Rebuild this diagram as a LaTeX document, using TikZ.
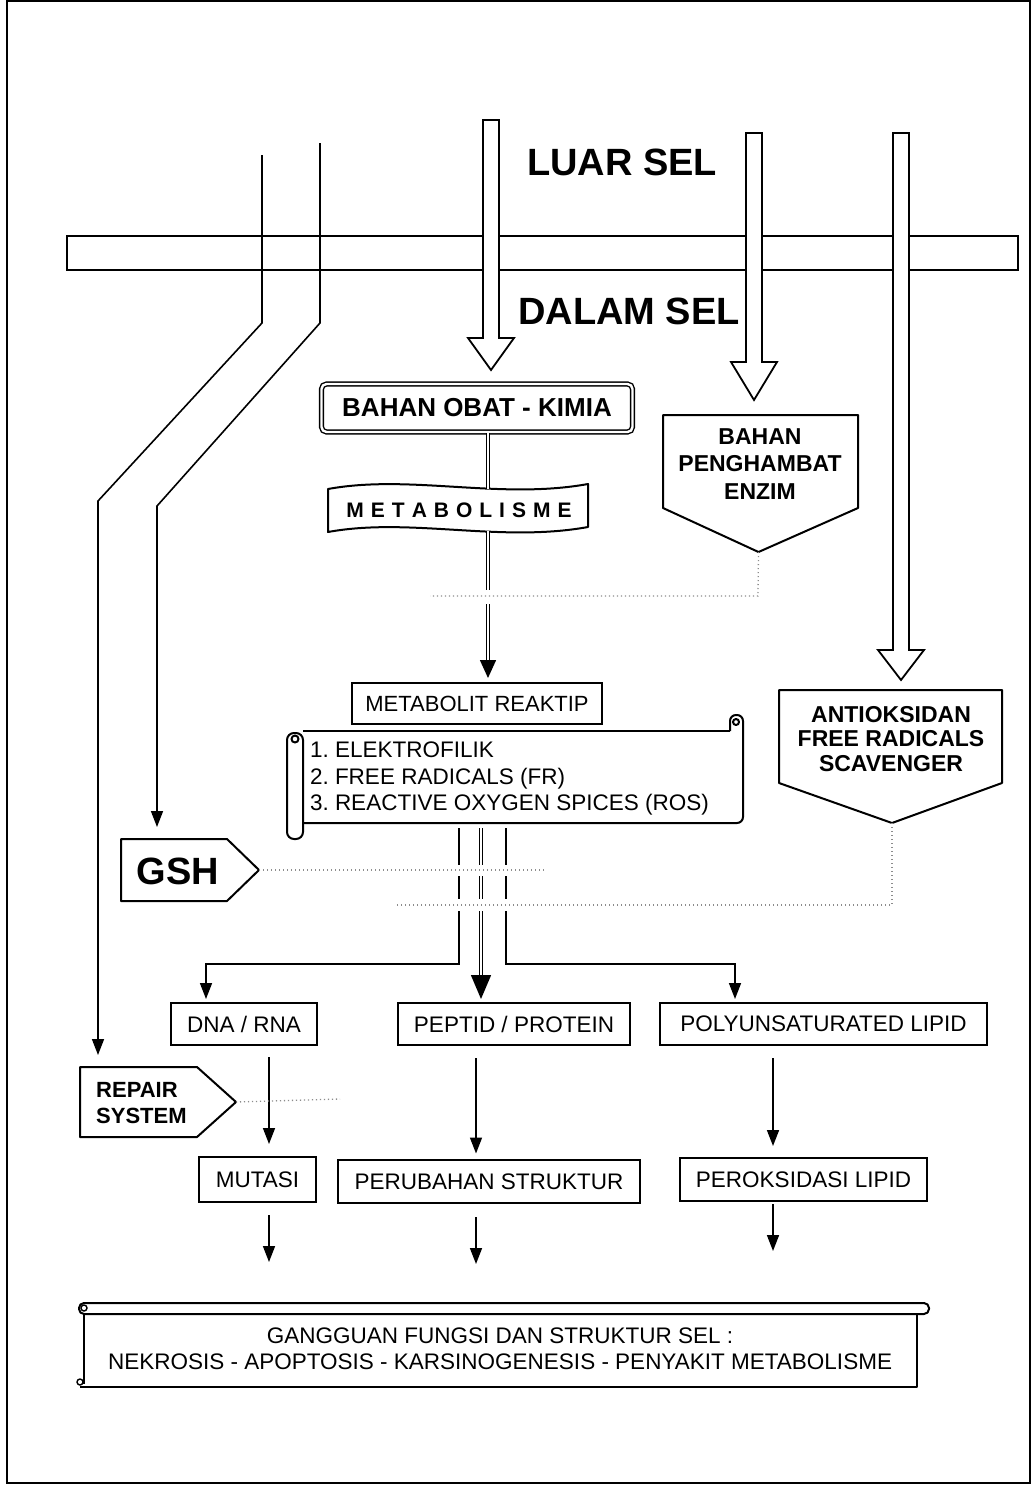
\documentclass[tikz,border=0pt]{standalone}
\usepackage{fontspec}
\setmainfont{Liberation Sans}
\usetikzlibrary{arrows.meta}
% hollow block arrow pointing down: centre x, shaft top, head top, tip
\newcommand\hollowdown[4]{%
  \draw[blockarrow] (#1-8,#2) -- (#1+8,#2) -- (#1+8,#3) -- (#1+23,#3) -- (#1,#4) -- (#1-23,#3) -- (#1-8,#3) -- cycle;}
\newcommand\fs[2]{\fontsize{#1}{#2}\selectfont}
\frenchspacing
\begin{document}
\begin{tikzpicture}[x=1pt,y=-1pt,
  outline/.style={line width=2pt, line join=round},
  box/.style={draw, line width=2pt, inner sep=0pt, font=\fs{22.5}{26}},
  plate/.style={inner sep=0pt, outer sep=0pt},
  heading/.style={inner sep=0pt, font=\fs{38}{40}\bfseries},
  boldtxt/.style={inner sep=0pt, align=center, font=\fs{23}{27.5}\bfseries},
  conn/.style={line width=1.6pt},
  arr/.style={conn, -{Triangle[length=16pt,width=12pt]}},
  bigarr/.style={line width=1.5pt, -{Triangle[length=24pt,width=20pt]}},
  dbl/.style={double, double distance=1.6pt, line width=1.2pt},
  inh/.style={draw=black!45, line width=1.3pt, dash pattern=on 1.2pt off 2.8pt},
  blockarrow/.style={line width=1.8pt, fill=white, line join=miter},
]
\useasboundingbox (0,0) rectangle (1034,1485);

% page frame and cell membrane
\draw[line width=1.4pt] (7,1) rectangle (1030,1483);
\draw[line width=1.6pt] (67,236) rectangle (1018,270);

% headings
\node[heading] (luar) at (622,162) {LUAR SEL};
\node[heading] (dalam) at (629,311) {DALAM SEL};

% main chain
\node[draw, double, double distance=2.4pt, line width=1.4pt, rounded corners=5pt,
      minimum width=311, minimum height=48, inner sep=0pt, font=\fs{26}{28}\bfseries]
      (obat) at (477,408) {BAHAN OBAT - KIMIA};

% wavy banner
\draw[outline] (328,489) .. controls (410,474) and (500,500) .. (588,484)
  -- (588,527) .. controls (500,543) and (410,517) .. (328,532) -- cycle;
\coordinate (tapetop) at (488,489);
\coordinate (tapebot) at (488,531);
\node[plate, font=\fs{21}{24}\bfseries] (metab) at (459,510)
  {M\kern7pt E\kern7pt T\kern7pt A\kern7pt B\kern7pt O\kern7pt L\kern7pt I\kern7pt S\kern7pt M\kern7pt E};

\node[plate, minimum width=195, minimum height=93] (enz) at (760.5,461.5) {};
\coordinate (enztip) at ([shift={(-2,44)}]enz.south);
\draw[outline] (enz.north west) -- (enz.north east) -- (enz.south east) -- (enztip) -- (enz.south west) -- cycle;
\node[boldtxt] (enztxt) at (760,464) {BAHAN\\PENGHAMBAT\\ENZIM};

\node[box, minimum width=250, minimum height=41, font=\fs{22}{26}] (met) at (477,703.5) {METABOLIT REAKTIP};

% scroll with the reactive species
\draw[outline, rounded corners=7pt] (287,733) rectangle (303,839);
\draw[outline] (295,739) circle (3.5);
\draw[outline] (303,731) -- (730,731);
\draw[outline, rounded corners=6pt] (730,731) -- (730,715) -- (743,715) -- (743,823) -- (303,823);
\draw[outline] (736,722) circle (3);
\coordinate (scrollbot) at (481,823);
\node[plate, anchor=west, align=left, font=\fs{22.5}{26.5}] (fr) at (310,778.5)
  {1. ELEKTROFILIK\\2. FREE RADICALS (FR)\\3. REACTIVE OXYGEN SPICES (ROS)};

\node[plate, minimum width=223, minimum height=93] (anti) at (890.5,736.5) {};
\coordinate (antitip) at ([shift={(1.5,40)}]anti.south);
\draw[outline] (anti.north west) -- (anti.north east) -- (anti.south east) -- (antitip) -- (anti.south west) -- cycle;
\node[boldtxt, font=\fs{23}{24.5}\bfseries] (antitxt) at (891,739) {ANTIOKSIDAN\\FREE RADICALS\\SCAVENGER};

\node[plate, minimum width=106, minimum height=62] (gsh) at (174,870) {};
\coordinate (gshtip) at ([xshift=32]gsh.east);
\draw[outline] (gsh.north west) -- (gsh.north east) -- (gshtip) -- (gsh.south east) -- (gsh.south west) -- cycle;
\node[plate, font=\fs{38}{40}\bfseries] (gshtxt) at (178,871) {GSH};

% targets
\node[box, minimum width=146, minimum height=42] (dna) at (244,1024) {DNA / RNA};
\node[box, minimum width=232, minimum height=42] (pep) at (514,1024) {PEPTID / PROTEIN};
\node[box, minimum width=327, minimum height=42] (pufa) at (823.5,1024) {POLYUNSATURATED LIPID};

\node[plate, minimum width=117, minimum height=70] (repair) at (138.5,1102) {};
\coordinate (repairtip) at ([xshift=39]repair.east);
\draw[outline] (repair.north west) -- (repair.north east) -- (repairtip) -- (repair.south east) -- (repair.south west) -- cycle;
\node[boldtxt, align=left, anchor=west, font=\fs{22}{26}\bfseries] (repairtxt) at (96,1103) {REPAIR\\SYSTEM};

\node[box, minimum width=117, minimum height=45] (mut) at (257.5,1179.5) {MUTASI};
\node[box, minimum width=302, minimum height=43] (perub) at (489,1181.5) {PERUBAHAN STRUKTUR};
\node[box, minimum width=247, minimum height=43] (perok) at (803.5,1179.5) {PEROKSIDASI LIPID};

% final outcome scroll
\draw[outline, rounded corners=5pt] (79,1303) rectangle (929,1314);
\draw[outline] (84,1314) -- (84,1384);
\draw[outline] (917,1314) -- (917,1387) -- (80,1387);
\draw[line width=1.4pt] (84,1308) circle (3);
\draw[line width=1.4pt] (80,1382) circle (3);
\node[plate, align=center, font=\fs{22.5}{26}] (outcome) at (500,1349)
  {GANGGUAN FUNGSI DAN STRUKTUR SEL :\\NEKROSIS - APOPTOSIS - KARSINOGENESIS - PENYAKIT METABOLISME};

% entries through the membrane
\hollowdown{491}{120}{338}{370}
\hollowdown{754}{133}{362}{400}
\hollowdown{901}{133}{650}{680}

\coordinate (srca) at (262,155);
\coordinate (srcb) at (320,143);
\draw[arr] (srca) -- (262,323) -- (98,501) -- ([shift={(18,-12)}]repair.north west);
\draw[arr] (srcb) -- (320,323) -- (157,506) -- ([shift={(36,-12)}]gsh.north west);

% metabolic route
\draw[dbl] ([xshift=11]obat.south) -- (tapetop);
\draw[dbl] (tapebot) -- (488,590);
\draw[dbl] (488,604) -- (488,664);
\draw[line width=1.5pt, -{Triangle[length=18pt,width=16pt]}] (488,660) -- ([shift={(11,-4)}]met.north);

% branches to the targets
\draw[arr] ([shift={(-22,5)}]scrollbot) -- (459,964) -- (206,964) -- ([shift={(-38,-3)}]dna.north);
\draw[arr] ([shift={(25,5)}]scrollbot) -- (506,964) -- (735,964) -- ([shift={(-88.5,-3)}]pufa.north);
\draw[dbl] ([shift={(0,5)}]scrollbot) -- (481,980);
\draw[bigarr] (481,976) -- ([shift={(-33,-3)}]pep.north);

\draw[arr] ([shift={(25,11)}]dna.south) -- ([shift={(11.5,-12)}]mut.north);
\draw[arr] ([shift={(-38,12)}]pep.south) -- ([shift={(-13,-5.5)}]perub.north);
\draw[arr] ([shift={(-50.5,12)}]pufa.south) -- ([shift={(-30.5,-11)}]perok.north);
\draw[arr] ([shift={(11.5,12)}]mut.south) -- ++(0,47);
\draw[arr] ([shift={(-13,13)}]perub.south) -- ++(0,47);
\draw[arr] ([shift={(-30.5,2)}]perok.south) -- ++(0,47);

% inhibiting influences
\fill[white] (452,865) rectangle (512,876);
\fill[white] (452,899) rectangle (512,911);
\draw[inh] (enztip) -- (758,596) -- (430,596);
\draw[inh] (gshtip) -- (545,870);
\draw[inh] (antitip) -- (892,905) -- (395,905);
\draw[inh] (repairtip) -- (340,1099);
\end{tikzpicture}
\end{document}
